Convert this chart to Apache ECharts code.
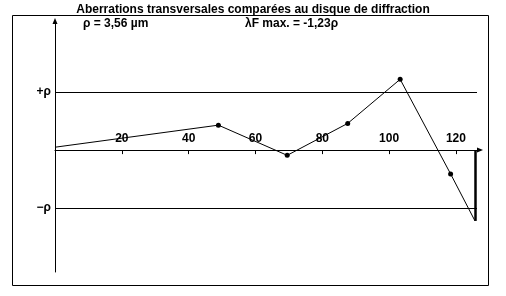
<!DOCTYPE html>
<html><head><meta charset="utf-8">
<script src="https://cdn.jsdelivr.net/npm/echarts@6/dist/echarts.min.js"></script>
<style>html,body{margin:0;padding:0;background:#fff}#c{width:506px;height:296px}</style>
</head><body><div id="c"></div>
<script>
const titleText = 'Aberrations transversales comparées au disque de diffraction';
const rhoText = 'ρ = 3,56 µm';
const lfText = 'λF max. = -1,23ρ';
const xs = [0, 48.9, 69.5, 87.6, 103.3, 118.4, 125.7];
const ys = [0.05, 0.43, -0.09, 0.46, 1.22, -0.41, -1.22];
const markerShown = [false, true, true, true, true, true, false];
const xTickValues = [20, 40, 60, 80, 100, 120];
const yTickValues = [-1, 1];
const yTickLabels = {'-1': '−ρ', '1': '+ρ'};

const chart = echarts.init(document.getElementById('c'), null, {renderer: 'canvas'});
const F = 'Liberation Sans';
const data = xs.map((x, i) => ({value: [x, ys[i]], symbol: markerShown[i] ? 'circle' : 'none'}));
const lastX = xs[xs.length - 1], lastY = ys[ys.length - 1];
const yMin = -2.1, yMax = 2.19, gTop = 23, gBottom = 24, H = 296;
const gH = H - gTop - gBottom;
const zeroFromBottom = (0 - yMin) / (yMax - yMin) * gH;
chart.setOption({
  animation: false,
  backgroundColor: '#fff',
  title: {text: titleText, left: 'center', top: -1,
    textStyle: {fontFamily: F, fontSize: 12, fontWeight: 'bold', color: '#000'}},
  graphic: [
    {type: 'rect', shape: {x: 12.5, y: 15.5, width: 476, height: 270}, style: {fill: 'none', stroke: '#000', lineWidth: 1}, z: 0},
    {type: 'text', left: 83, top: 18, style: {text: rhoText, font: 'bold 12px "Liberation Sans"', fill: '#000'}},
    {type: 'text', left: 245, top: 18, style: {text: lfText, font: 'bold 12px "Liberation Sans"', fill: '#000'}}
  ],
  grid: {left: 55, right: 29, top: gTop, bottom: gBottom},
  xAxis: {type: 'value', min: 0, max: 126.3, interval: 20, position: 'bottom', offset: -zeroFromBottom,
    axisLine: {onZero: false, lineStyle: {color: '#000', width: 1}, symbol: ['none', 'triangle'], symbolSize: [5, 6], symbolOffset: [0, 3]},
    axisTick: {show: true, inside: false, length: 4, lineStyle: {color: '#000'}, customValues: xTickValues},
    axisLabel: {inside: true, margin: 5, color: '#000', fontFamily: F, fontSize: 12, fontWeight: 'bold', customValues: xTickValues},
    splitLine: {show: false}},
  yAxis: {type: 'value', min: yMin, max: yMax,
    axisLine: {show: true, lineStyle: {color: '#000', width: 1}, symbol: ['none', 'triangle'], symbolSize: [5, 6], symbolOffset: [0, 2]},
    axisTick: {show: false},
    axisLabel: {margin: 4, color: '#000', fontFamily: F, fontSize: 12, fontWeight: 'bold', customValues: yTickValues,
      formatter: v => yTickLabels[String(Math.round(v))] || ''},
    splitLine: {show: false}},
  series: [{
    type: 'line', data: data, symbolSize: 5,
    itemStyle: {color: '#000'}, lineStyle: {color: '#000', width: 1},
    markLine: {silent: true, symbol: ['none', 'none'], label: {show: false},
      data: [
        {yAxis: 1, lineStyle: {color: '#000', width: 1, type: 'solid'}},
        {yAxis: -1, lineStyle: {color: '#000', width: 1, type: 'solid'}},
        [{coord: [lastX, 0], lineStyle: {color: '#000', width: 2.5, type: 'solid'}}, {coord: [lastX, lastY]}]
      ]}
  }]
});
</script></body></html>
